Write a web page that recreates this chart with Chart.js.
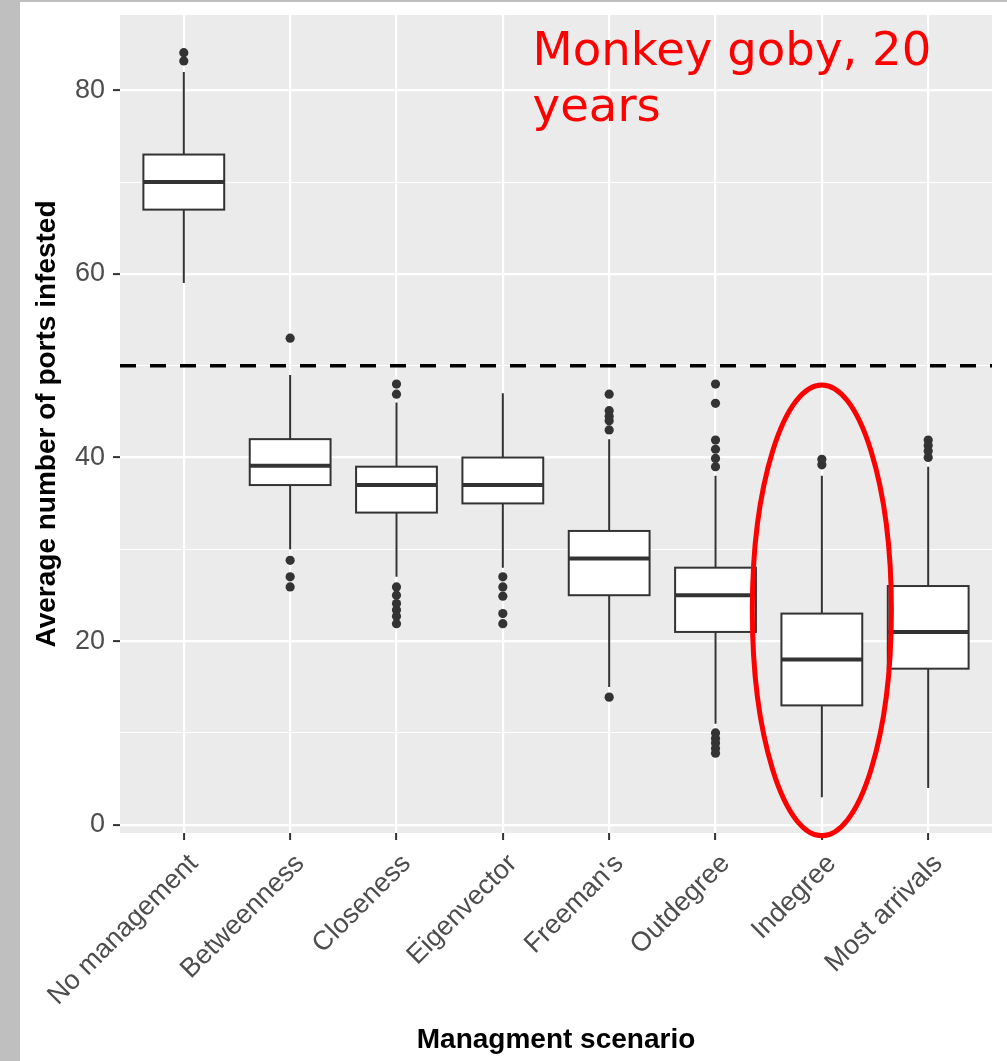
<!DOCTYPE html>
<html>
<head>
<meta charset="utf-8">
<script src="https://cdn.jsdelivr.net/npm/chart.js@4.4.1/dist/chart.umd.min.js"></script>
<style>
  html, body { margin: 0; padding: 0; background: #ffffff; }
  #frame {
    position: absolute; left: 0; top: 0;
    width: 987px; height: 1059px;
    border-left: 20px solid #bfbfbf;
    border-top: 2px solid #bfbfbf;
    background: #ffffff;
  }
  canvas { display: block; }
</style>
</head>
<body>
<div id="frame"><canvas id="chart" width="987" height="1059"></canvas></div>
<script>
// Management scenarios and the box-and-whisker summaries of ports infested
const categories = ['No management', 'Betweenness', 'Closeness', 'Eigenvector',
                    "Freeman's", 'Outdegree', 'Indegree', 'Most arrivals'];
const whiskerLow  = [59, 30, 27, 28, 15, 11, 3, 4];
const lowerQuart  = [67, 37, 34, 35, 25, 21, 13, 17];
const medians     = [70, 39.1, 37, 37, 29, 25, 18, 21];
const upperQuart  = [73, 42, 39, 40, 32, 28, 23, 26];
const whiskerHigh = [82, 49, 46, 47, 42, 38, 38, 39];
const outliers = [
  [84.1, 83.2],
  [53, 28.8, 27, 25.9],
  [48, 46.9, 25.9, 25, 24.1, 23.4, 22.7, 21.9],
  [27, 25.9, 24.9, 23, 21.9],
  [46.9, 45.1, 44.5, 44, 43, 13.9],
  [48, 45.9, 41.9, 40.9, 39.9, 39, 10, 9.4, 8.9, 8.3, 7.8],
  [39.8, 39.2],
  [41.9, 41.3, 40.7, 40]
];
const threshold = 50;
const yTickValues = [0, 20, 40, 60, 80];
const yMinorValues = [10, 30, 50, 70];
const annotationLines = ['Monkey goby, 20', 'years'];
const highlighted = 'Indegree';

const BOX_HALF = 0.38;
const X_MIN = 0.4, X_MAX = 8.6;
const Y_MIN = -0.9, Y_MAX = 88.2;

const outlierPoints = [];
outliers.forEach((vals, i) => vals.forEach(v => outlierPoints.push({ x: i + 1, y: v })));

// grey panel behind the grid
const panelBg = {
  id: 'panelBg',
  beforeDraw(chart) {
    const { ctx, chartArea: a } = chart;
    ctx.save();
    ctx.fillStyle = '#ebebeb';
    ctx.fillRect(a.left, a.top, a.right - a.left, a.bottom - a.top);
    ctx.restore();
  }
};

// boxes, medians and whiskers
const boxes = {
  id: 'boxes',
  beforeDatasetsDraw(chart) {
    const { ctx, scales: { x, y } } = chart;
    ctx.save();
    ctx.strokeStyle = '#333333';
    categories.forEach((c, i) => {
      const cx = x.getPixelForValue(i + 1);
      const l = x.getPixelForValue(i + 1 - BOX_HALF);
      const r = x.getPixelForValue(i + 1 + BOX_HALF);
      const top = y.getPixelForValue(upperQuart[i]);
      const bot = y.getPixelForValue(lowerQuart[i]);
      ctx.lineWidth = 2;
      ctx.beginPath();
      ctx.moveTo(cx, y.getPixelForValue(whiskerHigh[i]));
      ctx.lineTo(cx, top);
      ctx.moveTo(cx, bot);
      ctx.lineTo(cx, y.getPixelForValue(whiskerLow[i]));
      ctx.stroke();
      ctx.fillStyle = '#ffffff';
      ctx.fillRect(l, top, r - l, bot - top);
      ctx.strokeRect(l, top, r - l, bot - top);
      const m = y.getPixelForValue(medians[i]);
      ctx.lineWidth = 4;
      ctx.beginPath();
      ctx.moveTo(l, m);
      ctx.lineTo(r, m);
      ctx.stroke();
    });
    ctx.restore();
  }
};

// red annotation: label in the upper right and a ring round one scenario
const annotation = {
  id: 'annotation',
  afterDatasetsDraw(chart) {
    const { ctx, scales: { x, y } } = chart;
    ctx.save();
    const k = categories.indexOf(highlighted) + 1;
    const cx = x.getPixelForValue(k);
    const rx = x.getPixelForValue(k + 0.654) - cx;
    const yTop = y.getPixelForValue(47.9), yBot = y.getPixelForValue(-1.2);
    ctx.strokeStyle = '#ff0000';
    ctx.lineWidth = 5;
    ctx.beginPath();
    ctx.ellipse(cx, (yTop + yBot) / 2, rx, (yBot - yTop) / 2, 0, 0, Math.PI * 2);
    ctx.stroke();

    ctx.fillStyle = '#ff0000';
    ctx.font = '46px "DejaVu Sans"';
    ctx.textAlign = 'left';
    ctx.textBaseline = 'alphabetic';
    const tx = x.getPixelForValue(4.28);
    // stretch slightly so the line spans the same width as the heading face
    const w = ctx.measureText(annotationLines[0]).width;
    const sx = (x.getPixelForValue(8.03) - tx) / w;
    ctx.translate(tx, 0);
    ctx.scale(sx, 1);
    ctx.fillText(annotationLines[0], 0, y.getPixelForValue(82.7));
    ctx.fillText(annotationLines[1], 0, y.getPixelForValue(76.7));
    ctx.restore();
  }
};

const tickFont = { family: '"Liberation Sans", Arial, sans-serif', size: 27 };
const titleFont = { family: '"Liberation Sans", Arial, sans-serif', size: 28, weight: 'bold' };

new Chart(document.getElementById('chart'), {
  type: 'scatter',
  data: {
    datasets: [
      {
        type: 'scatter',
        data: outlierPoints,
        pointRadius: 4.6,
        pointBorderWidth: 0,
        pointBackgroundColor: '#333333',
        order: 1
      },
      {
        type: 'line',
        data: [{ x: X_MIN, y: threshold }, { x: X_MAX, y: threshold }],
        borderColor: '#000000',
        borderWidth: 3.5,
        borderDash: [16, 14],
        pointRadius: 0,
        fill: false,
        order: 2
      }
    ]
  },
  options: {
    responsive: false,
    animation: false,
    layout: { padding: { left: 0, right: 15, top: 13, bottom: 0 } },
    plugins: { legend: { display: false }, tooltip: { enabled: false }, title: { display: false } },
    scales: {
      x: {
        type: 'linear',
        min: X_MIN, max: X_MAX,
        afterBuildTicks(scale) { scale.ticks = categories.map((c, i) => ({ value: i + 1 })); },
        afterFit(scale) { scale.height = 228; scale.paddingLeft = 0; scale.paddingRight = 0; },
        border: { display: false },
        grid: { color: '#ffffff', lineWidth: 2.2, tickColor: '#333333', tickLength: 7, tickWidth: 2 },
        ticks: {
          autoSkip: false,
          minRotation: 45, maxRotation: 45,
          padding: 8,
          labelOffset: 10,
          color: '#4d4d4d',
          font: tickFont,
          callback: (v) => categories[Math.round(v) - 1]
        },
        title: { display: true, text: 'Managment scenario', color: '#000000', font: titleFont, padding: { top: 0, bottom: 4 } }
      },
      y: {
        type: 'linear',
        min: Y_MIN, max: Y_MAX,
        afterBuildTicks(scale) {
          scale.ticks = yTickValues.concat(yMinorValues).sort((a, b) => a - b).map(v => ({ value: v }));
        },
        afterFit(scale) { scale.width = 100; scale.paddingTop = 0; scale.paddingBottom = 0; },
        border: { display: false },
        grid: {
          color: '#ffffff',
          lineWidth: (c) => (yTickValues.includes(c.tick.value) ? 2.2 : 1.1),
          tickColor: (c) => (yTickValues.includes(c.tick.value) ? '#333333' : 'rgba(0,0,0,0)'),
          tickLength: 7,
          tickWidth: 2
        },
        ticks: {
          padding: 8,
          color: '#4d4d4d',
          font: tickFont,
          callback: (v) => (yTickValues.includes(v) ? String(v) : '')
        },
        title: { display: true, text: 'Average number of ports infested', color: '#000000', font: titleFont, padding: { top: 10, bottom: 0 } }
      }
    }
  },
  plugins: [panelBg, boxes, annotation]
});
</script>
</body>
</html>
